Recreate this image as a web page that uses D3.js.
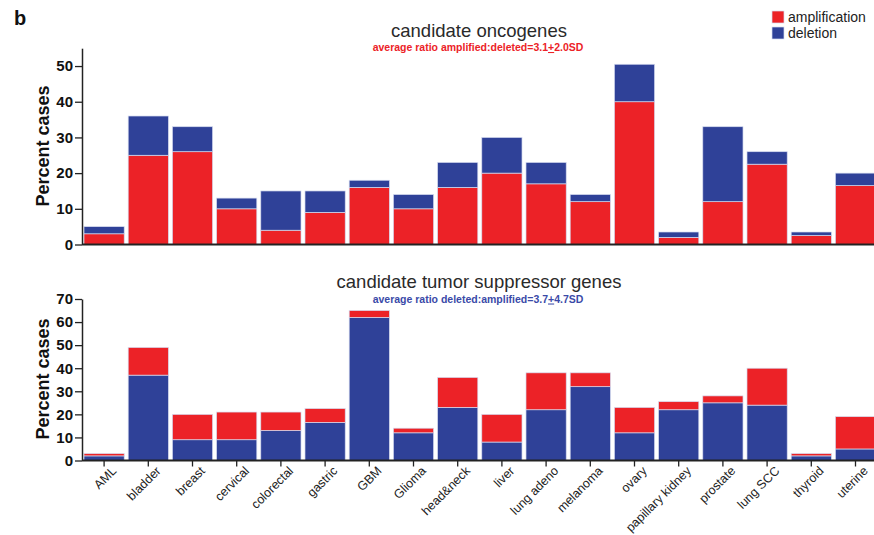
<!DOCTYPE html>
<html>
<head>
<meta charset="utf-8">
<script src="https://cdn.jsdelivr.net/npm/d3@7"></script>
<style>
  body { margin: 0; background: #fff; }
  svg { font-family: "Liberation Sans", Arial, sans-serif; }
</style>
</head>
<body>
<div class="wrapper"></div>
<script>
// data
var tumors = ['AML','bladder','breast','cervical','colorectal','gastric','GBM','Glioma','head&neck',
  'liver','lung adeno','melanoma','ovary','papillary kidney','prostate','lung SCC','thyroid','uterine'];

// candidate oncogenes (percent cases)
var oncoAmp = [3, 25, 26, 10, 4, 9, 16, 10, 16, 20, 17, 12, 40, 2, 12, 22.5, 2.5, 16.5];
var oncoDel = [2, 11, 7, 3, 11, 6, 2, 4, 7, 10, 6, 2, 10.5, 1.5, 21, 3.5, 1, 3.5];

// candidate tumor suppressor genes (percent cases)
var tsgDel = [2, 37, 9, 9, 13, 16.5, 62, 12, 23, 8, 22, 32, 12, 22, 25, 24, 2, 5];
var tsgAmp = [1, 12, 11, 12, 8, 6, 3, 2, 13, 12, 16, 6, 11, 3.5, 3, 16, 1, 14];

var topTicks = [0, 10, 20, 30, 40, 50];
var bottomTicks = [0, 10, 20, 30, 40, 50, 60, 70];

var RED = '#ec2227', BLUE = '#2f4198';

var width = 874, height = 535;
var svg = d3.select('.wrapper').append('svg')
    .attr('width', width)
    .attr('height', height);

var x = d3.scaleBand()
    .domain(tumors)
    .range([82, 82 + 18 * 44.2])
    .paddingInner(0.09)
    .paddingOuter(0.045);

var yTop = d3.scaleLinear().domain([0, 55]).range([244.5, 48.2]);
var yBot = d3.scaleLinear().domain([0, 70]).range([460.5, 299]);

function panel(yScale, lower, upper, lowerColor, upperColor, ticks, showLabels) {
  var g = svg.append('g');
  var rows = tumors.map((t, i) => ({t: t, a: lower[i], b: upper[i]}));

  g.selectAll('rect.low').data(rows).enter().append('rect')
    .attr('x', d => x(d.t))
    .attr('width', x.bandwidth())
    .attr('y', d => yScale(d.a))
    .attr('height', d => yScale(0) - yScale(d.a))
    .attr('fill', lowerColor)
    .attr('stroke', '#d6dcf0').attr('stroke-width', 0.7);

  g.selectAll('rect.up').data(rows).enter().append('rect')
    .attr('x', d => x(d.t))
    .attr('width', x.bandwidth())
    .attr('y', d => yScale(d.a + d.b))
    .attr('height', d => yScale(d.a) - yScale(d.a + d.b))
    .attr('fill', upperColor)
    .attr('stroke', '#d6dcf0').attr('stroke-width', 0.7);

  // y axis
  var ya = g.append('g')
    .attr('transform', 'translate(82,0)')
    .call(d3.axisLeft(yScale).tickValues(ticks).tickSize(7).tickPadding(2).tickSizeOuter(0));
  ya.select('.domain').attr('stroke', '#222').attr('stroke-width', 1.5);
  ya.selectAll('.tick line').attr('stroke', '#222').attr('stroke-width', 1.3);
  ya.selectAll('.tick text')
    .attr('font-size', 15).attr('font-weight', 'bold').attr('fill', '#111')
    .attr('font-family', '"Liberation Sans", Arial, sans-serif');

  // x axis line
  var xa = g.append('g')
    .attr('transform', 'translate(0,' + yScale(0) + ')')
    .call(d3.axisBottom(x).tickSize(showLabels ? 6 : 0).tickSizeOuter(0).tickFormat(''));
  xa.select('.domain').attr('d', 'M82,0H874').attr('stroke', '#222').attr('stroke-width', 1.8);
  xa.selectAll('.tick line').attr('stroke', '#222').attr('stroke-width', 1.3);

  if (showLabels) {
    g.selectAll('text.xl').data(tumors).enter().append('text')
      .attr('class', 'xl')
      .attr('transform', d => 'translate(' + (x(d) + x.bandwidth() / 2 + 7) + ',' + (yScale(0) + 5) + ') rotate(-45)')
      .attr('text-anchor', 'end')
      .attr('dy', '0.7em')
      .attr('font-size', 12.5)
      .attr('fill', '#222')
      .text(d => d);
  }
  return g;
}

panel(yTop, oncoAmp, oncoDel, RED, BLUE, topTicks, false);
panel(yBot, tsgDel, tsgAmp, BLUE, RED, bottomTicks, true);

// titles
svg.append('text').attr('x', 479).attr('y', 37).attr('text-anchor', 'middle')
  .attr('font-size', 18.5).attr('fill', '#2a2a2a').text('candidate oncogenes');
svg.append('text').attr('x', 478).attr('y', 51).attr('text-anchor', 'middle')
  .attr('font-size', 10.5).attr('font-weight', 'bold').attr('fill', RED)
  .html('average ratio amplified:deleted=3.1<tspan text-decoration="underline">+</tspan>2.0SD');

svg.append('text').attr('x', 479).attr('y', 287.5).attr('text-anchor', 'middle')
  .attr('font-size', 18.5).attr('fill', '#2a2a2a').text('candidate tumor suppressor genes');
svg.append('text').attr('x', 478).attr('y', 302.5).attr('text-anchor', 'middle')
  .attr('font-size', 10.5).attr('font-weight', 'bold').attr('fill', '#3a4aa8')
  .html('average ratio deleted:amplified=3.7<tspan text-decoration="underline">+</tspan>4.7SD');

// y labels
[[146, 'Percent cases'], [379, 'Percent cases']].forEach(function(p) {
  svg.append('text')
    .attr('transform', 'translate(49,' + p[0] + ') rotate(-90)')
    .attr('text-anchor', 'middle')
    .attr('font-size', 18).attr('font-weight', 'bold').attr('fill', '#111')
    .text(p[1]);
});

// panel letter
svg.append('text').attr('x', 14).attr('y', 25)
  .attr('font-size', 20).attr('font-weight', 'bold').attr('fill', '#111').text('b');

// legend
var legend = [['amplification', RED], ['deletion', BLUE]];
var lg = svg.selectAll('g.leg').data(legend).enter().append('g')
  .attr('transform', (d, i) => 'translate(772,' + (11 + i * 16) + ')');
lg.append('rect').attr('width', 12).attr('height', 12).attr('fill', d => d[1])
  .attr('stroke', '#d6dcf0').attr('stroke-width', 0.7);
lg.append('text').attr('x', 16).attr('y', 10.5).attr('font-size', 14).attr('fill', '#222').text(d => d[0]);
</script>
</body>
</html>
